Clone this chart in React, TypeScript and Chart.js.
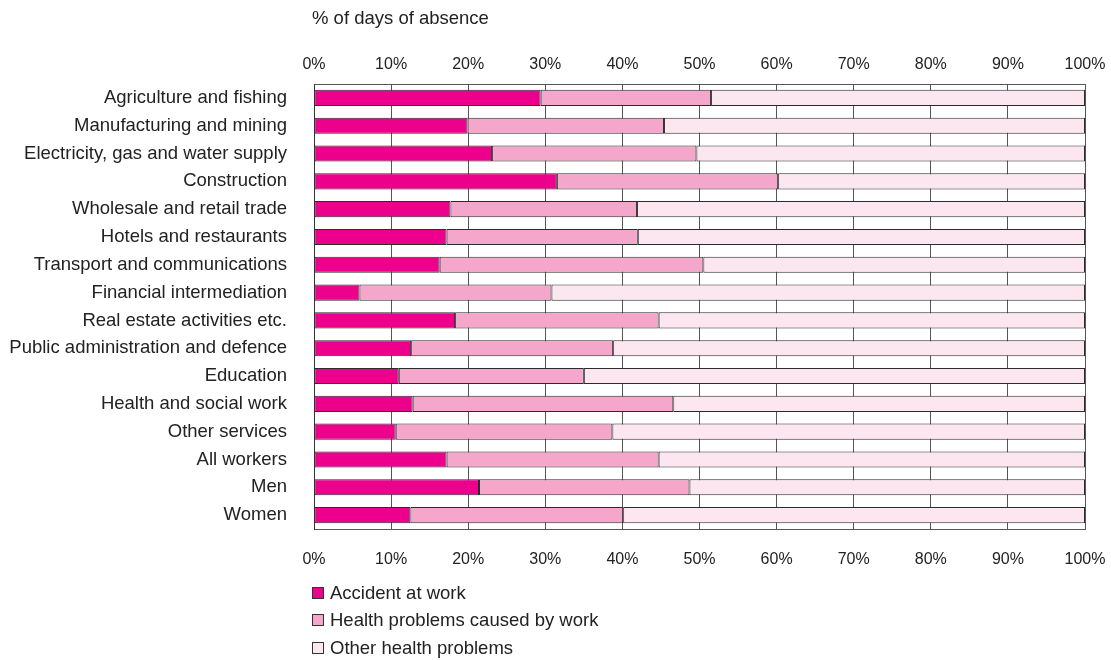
import React, { useEffect, useRef } from "react";
import { Chart, registerables } from "chart.js";

Chart.register(...registerables);

const categories = [
  "Agriculture and fishing",
  "Manufacturing and mining",
  "Electricity, gas and water supply",
  "Construction",
  "Wholesale and retail trade",
  "Hotels and restaurants",
  "Transport and communications",
  "Financial intermediation",
  "Real estate activities etc.",
  "Public administration and defence",
  "Education",
  "Health and social work",
  "Other services",
  "All workers",
  "Men",
  "Women",
];

const accidentAtWork = [29.4, 19.9, 23.1, 31.5, 17.7, 17.2, 16.3, 5.9, 18.3, 12.6, 11.0, 12.8, 10.6, 17.2, 21.4, 12.5];
const healthCausedByWork = [22.1, 25.5, 26.5, 28.7, 24.2, 24.8, 34.2, 24.9, 26.4, 26.2, 24.0, 33.8, 28.1, 27.5, 27.3, 27.6];
const otherHealth = [48.5, 54.6, 50.4, 39.8, 58.1, 58.0, 49.5, 69.2, 55.3, 61.2, 65.0, 53.4, 61.3, 55.3, 51.3, 59.9];

const seriesNames = ["Accident at work", "Health problems caused by work", "Other health problems"];
const seriesColors = ["#EC008C", "#F4A7CA", "#FCE6F0"];
const tickValues = [0, 10, 20, 30, 40, 50, 60, 70, 80, 90, 100];

const FONT = "'Liberation Sans', Arial, sans-serif";

export default function App() {
  const ref = useRef<HTMLCanvasElement>(null);
  useEffect(() => {
    if (!ref.current) return;
    const values = [accidentAtWork, healthCausedByWork, otherHealth];
    const noPad = (s: any) => { s.paddingLeft = 0; s.paddingRight = 0; };
    const chart = new Chart(ref.current, {
      type: "bar",
      data: {
        labels: categories,
        datasets: values.map((v, i) => ({
          label: seriesNames[i],
          data: v,
          backgroundColor: seriesColors[i],
          borderColor: "#2b2b2b",
          borderWidth: 1,
          borderSkipped: false,
          barPercentage: 0.58,
          categoryPercentage: 1,
          xAxisID: "x",
        })),
      },
      options: {
        indexAxis: "y",
        responsive: false,
        animation: false,
        layout: { padding: { left: 0, right: 26, top: 0, bottom: 0 } },
        plugins: { legend: { display: false }, tooltip: { enabled: false }, title: { display: false } },
        scales: {
          x: {
            type: "linear",
            position: "top",
            stacked: true,
            min: 0,
            max: 100,
            afterBuildTicks: (s: any) => { s.ticks = tickValues.map((v) => ({ value: v })); },
            ticks: { callback: (v: any) => v + "%", color: "#222", font: { family: FONT, size: 16 }, padding: 10, maxRotation: 0 },
            grid: { color: "#555555", lineWidth: 1, drawTicks: false },
            border: { display: true, color: "#555555" },
            afterFit: (s: any) => { s.height = 84; noPad(s); },
          },
          x2: {
            type: "linear",
            position: "bottom",
            min: 0,
            max: 100,
            afterBuildTicks: (s: any) => { s.ticks = tickValues.map((v) => ({ value: v })); },
            ticks: { callback: (v: any) => v + "%", color: "#222", font: { family: FONT, size: 16 }, padding: 21, maxRotation: 0 },
            grid: { display: false, drawTicks: false },
            border: { display: true, color: "#555555" },
            afterFit: (s: any) => { s.height = 660 - 529; noPad(s); },
          },
          y: {
            stacked: true,
            ticks: { color: "#222", font: { family: FONT, size: 18.5 }, padding: 27, autoSkip: false },
            grid: { display: false, drawTicks: false },
            border: { display: true, color: "#333333" },
            afterFit: (s: any) => { s.width = 314; },
          },
        },
      },
    });
    return () => chart.destroy();
  }, []);

  return (
    <div style={{ position: "absolute", left: 0, top: 0, width: 1111, height: 660, background: "#fff", fontFamily: FONT, color: "#222" }}>
      <canvas ref={ref} width={1111} height={660} style={{ position: "absolute", left: 0, top: 0 }} />
      <div style={{ position: "absolute", left: 312, top: 7, fontSize: 18.5, lineHeight: "22px" }}>% of days of absence</div>
      <div style={{ position: "absolute", left: 312, top: 579 }}>
        {seriesNames.map((n, i) => (
          <div key={n} style={{ display: "flex", alignItems: "center", height: 27.5, fontSize: 18.5 }}>
            <span style={{ display: "inline-block", boxSizing: "border-box", width: 12, height: 12, background: seriesColors[i], border: "1px solid #333", marginRight: 6 }} />
            {n}
          </div>
        ))}
      </div>
    </div>
  );
}
